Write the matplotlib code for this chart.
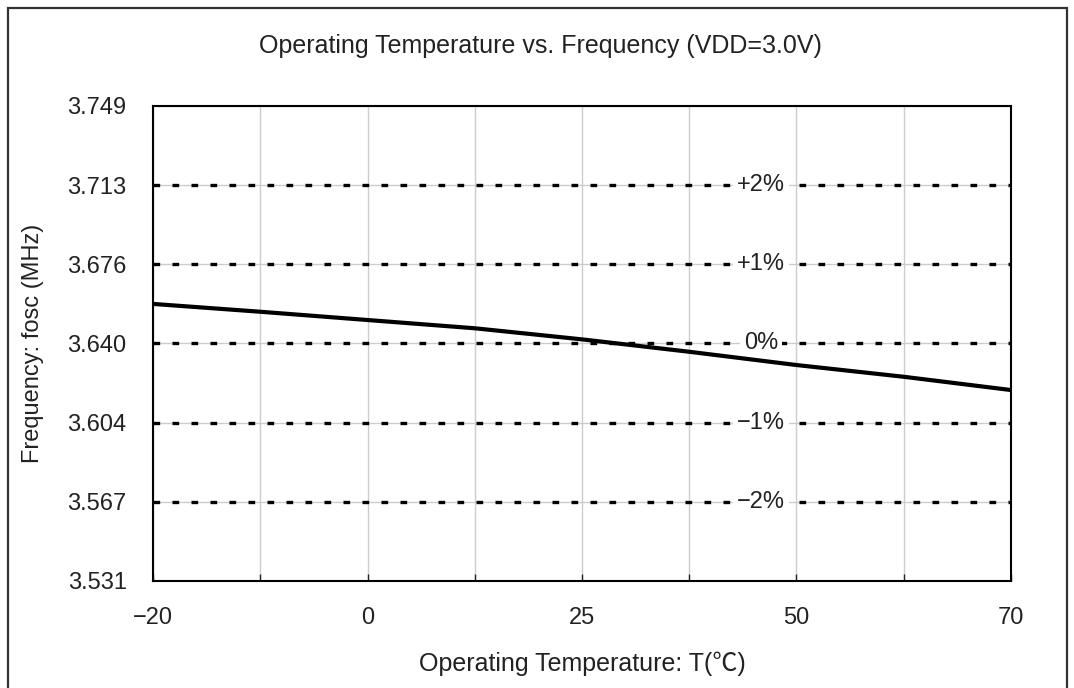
import numpy as np
import matplotlib.pyplot as plt
from matplotlib.patches import Rectangle

plt.rcParams['font.family'] = ['Liberation Sans', 'Noto Sans CJK KR', 'DejaVu Sans']

# 데이터
temp_labels = ['−20', '0', '25', '50', '70']
freq = [3.6582, 3.6546, 3.6508, 3.6470, 3.6419, 3.6362, 3.6301, 3.6247, 3.6186]
f_center = 3.640
pct_levels = [2, 1, 0, -1, -2]
pct_labels = ['+2%', '+1%', '0%', '−1%', '−2%']
ytick_steps = [-3, -2, -1, 0, 1, 2, 3]

fig = plt.figure(figsize=(10.74, 6.88), dpi=100)
ax = fig.add_axes([153/1074, 1 - 581/688, 858/1074, 475/688])

x = np.arange(len(freq))
yticks = [f_center * (1 + s / 100) for s in ytick_steps]

# 회색 격자
for xi in x:
    ax.axvline(xi, color='#cccccc', lw=1, zorder=0)
for yv in yticks:
    ax.axhline(yv, color='#cccccc', lw=1, zorder=0)

# ±% 점선
for p, lab in zip(pct_levels, pct_labels):
    yv = f_center * (1 + p / 100)
    ax.plot([0, 8], [yv, yv], color='black', lw=2.4, dashes=(2, 3.7), zorder=2,
            solid_capstyle='butt', dash_capstyle='butt')
    ax.text(5.67, yv, lab, fontsize=17, ha='center', va='center', color='#222222',
            bbox=dict(facecolor='white', edgecolor='none', pad=3), zorder=3)

ax.plot(x, freq, color='black', lw=3, zorder=4, solid_capstyle='butt')

ax.set_xlim(0, 8)
ax.set_ylim(yticks[0], yticks[-1])
ax.set_xticks(x)
ax.set_xticklabels([temp_labels[i // 2] if i % 2 == 0 else '' for i in x])
ax.set_yticks(yticks)
ax.set_yticklabels(['%.3f' % v for v in yticks])
ax.tick_params(axis='x', direction='in', length=5, width=1, labelsize=17,
               colors='#222222', pad=19)
ax.tick_params(axis='y', direction='in', length=0, labelsize=17,
               colors='#222222', pad=19)
for sp in ax.spines.values():
    sp.set_color('black')
    sp.set_linewidth(1.5)

ax.set_xlabel('Operating Temperature: T(℃)', fontsize=18, color='#222222')
ax.xaxis.set_label_coords((582 - 153) / 858, (581 - 652) / 475)
ax.set_ylabel('Frequency: fosc (MHz)', fontsize=17, color='#222222')
ax.yaxis.set_label_coords((44 - 153) / 858, 0.5)
fig.text(540 / 1074, 1 - 46/688, 'Operating Temperature vs. Frequency (VDD=3.0V)',
         fontsize=18, ha='center', va='center', color='#222222')

# 바깥 테두리
fig.patches.append(Rectangle((8/1074, -0.05), 1059/1074, 1.05 - 8/688,
                             transform=fig.transFigure, fill=False,
                             edgecolor='#333333', lw=1.6))

fig.savefig('out.png', dpi=100)
